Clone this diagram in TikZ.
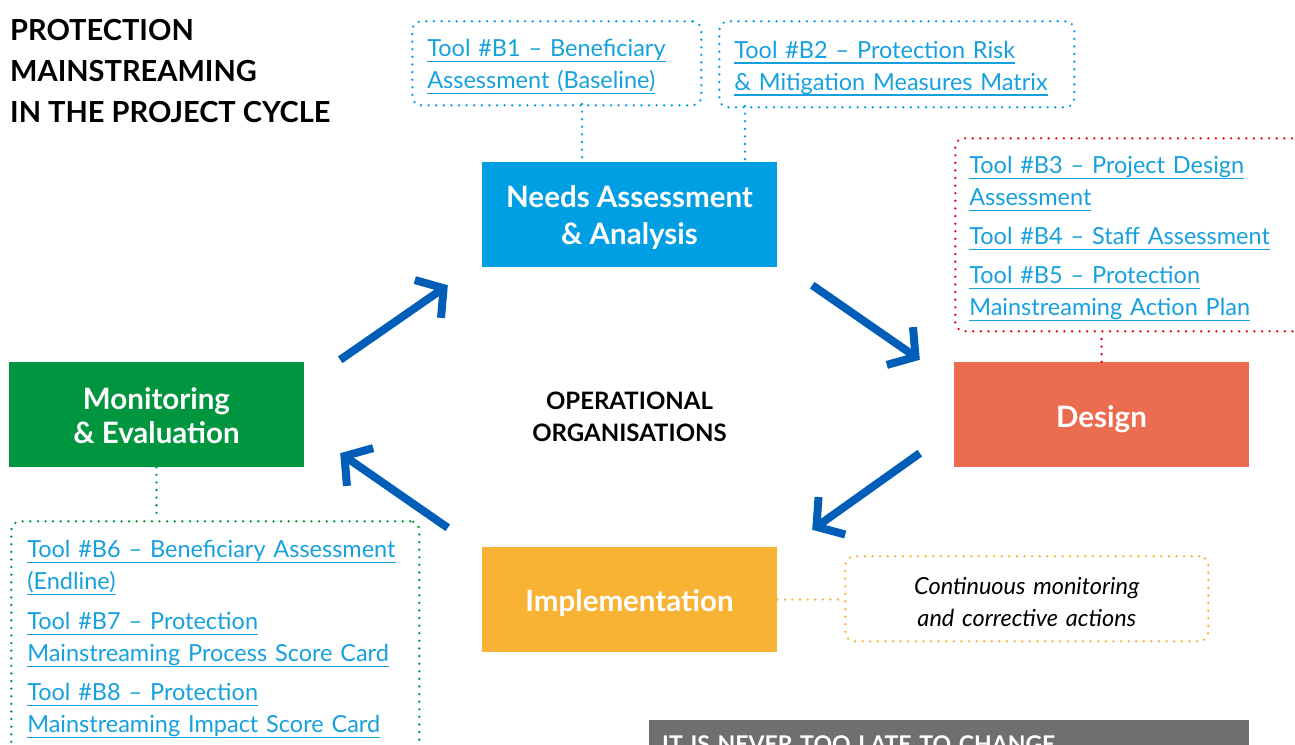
\documentclass[tikz,border=0pt]{standalone}
\usepackage{fontspec}
\setmainfont{Lato}
\usetikzlibrary{arrows.meta}

\definecolor{needsblue}{RGB}{0,159,227}
\definecolor{designred}{RGB}{236,108,80}
\definecolor{implyellow}{RGB}{248,178,52}
\definecolor{monigreen}{RGB}{0,150,64}
\definecolor{cycleblue}{RGB}{0,94,184}
\definecolor{linkblue}{RGB}{22,160,222}
\definecolor{dotred}{RGB}{227,6,19}
\definecolor{notegrey}{RGB}{112,111,111}

\newsavebox{\toolrefbox}
\newcommand{\toolref}[1]{\leavevmode\sbox{\toolrefbox}{#1}\rlap{\rule[-5.5pt]{\wd\toolrefbox}{1.3pt}}\usebox{\toolrefbox}}
\newcommand{\padtop}[1]{\rule{0pt}{#1}}

\begin{document}
\begin{tikzpicture}[x=1pt,y=-1pt,
    phase/.style={minimum width=295pt, minimum height=105pt, inner sep=0pt, text=white, align=center,
      font=\fontsize{29.5}{36}\selectfont\bfseries},
    toolbox/.style={draw, line width=2.6pt, dash pattern=on 0pt off 7.6pt, line cap=round,
      rounded corners=9pt, anchor=north west, align=left, inner ysep=0pt, text=linkblue,
      font=\fontsize{23.5}{32}\selectfont},
    dotlink/.style={line width=2.6pt, dash pattern=on 0pt off 7.6pt, line cap=round},
    cyclearrow/.style={line width=8pt, cycleblue, -{Straight Barb[length=19pt,width=46pt]}}]
  \useasboundingbox (0,0) rectangle (1295,744);
  \clip (0,0) rectangle (1295,744);

  % title
  \node (title) [anchor=north west, align=left, inner sep=0pt,
    font=\fontsize{29}{41}\selectfont\bfseries] at (10,19) {PROTECTION\\MAINSTREAMING\\IN THE PROJECT CYCLE};

  % the four phases
  \node (needs) [phase, fill=needsblue, font=\fontsize{29.5}{37}\selectfont\bfseries] at (629.5,214.5) {\padtop{28pt}Needs Assessment\\\& Analysis};
  \node (design) [phase, fill=designred] at (1101.5,414.5) {\padtop{31pt}Design};
  \node (impl) [phase, fill=implyellow] at (629.5,599.5) {\padtop{28pt}Implementation};
  \node (moni) [phase, fill=monigreen, font=\fontsize{29.5}{34}\selectfont\bfseries] at (156.5,414.5) {\padtop{24pt}Monitoring\\\& Evaluation};

  \node (centre) [align=center, font=\fontsize{24}{32}\selectfont\bfseries] at (629.5,417) {OPERATIONAL\\ORGANISATIONS};

  % tool boxes
  \node (b1) [toolbox, color=needsblue, text=linkblue, text width=259pt, inner xsep=15pt, minimum height=84pt]
    at (411,20) {\padtop{24pt}\toolref{Tool \#B1 – Beneficiary}\\\toolref{Assessment (Baseline)}};
  \node (b2) [toolbox, color=needsblue, text=linkblue, text width=325pt, inner xsep=15pt, minimum height=86pt]
    at (718,20) {\padtop{25pt}\toolref{Tool \#B2 – Protection Risk}\\\toolref{\& Mitigation Measures Matrix}};
  \node (b35) [toolbox, color=dotred, text=linkblue, text width=348pt, inner xsep=14pt, minimum height=193pt]
    at (954,137) {\padtop{25pt}\toolref{Tool \#B3 – Project Design}\\\toolref{Assessment}\\[7pt]
      \toolref{Tool \#B4 – Staff Assessment}\\[7pt]
      \toolref{Tool \#B5 – Protection}\\\toolref{Mainstreaming Action Plan}};
  \node (b68) [toolbox, color=monigreen, text=linkblue, text width=376pt, inner xsep=16pt, minimum height=236pt]
    at (10,520) {\toolref{Tool \#B6 – Beneficiary Assessment}\\\toolref{(Endline)}\\[8pt]
      \toolref{Tool \#B7 – Protection}\\\toolref{Mainstreaming Process Score Card}\\[7pt]
      \toolref{Tool \#B8 – Protection}\\\toolref{Mainstreaming Impact Score Card}};
  \node (cont) [toolbox, color=implyellow, text=black, align=center, text width=329pt, inner xsep=17pt,
    minimum height=85pt, font=\fontsize{23.5}{32}\selectfont\itshape]
    at (844,555) {\padtop{24pt}Continuous monitoring\\and corrective actions};

  \node (note) [fill=notegrey, anchor=north west, text=white, align=left, text width=574pt,
    inner xsep=13pt, inner ysep=15pt, font=\fontsize{23}{30}\selectfont\bfseries]
    at (649,720) {IT IS NEVER TOO LATE TO CHANGE};

  % dotted links
  \coordinate (b1foot) at (582,104);
  \coordinate (b2foot) at (745,106);
  \draw[dotlink, needsblue] (b1foot) -- (b1foot |- needs.north);
  \draw[dotlink, needsblue] (b2foot) -- (b2foot |- needs.north);
  \draw[dotlink, dotred] (design.north) -- (design.north |- b35.south);
  \draw[dotlink, monigreen] (moni.south) -- (moni.south |- b68.north);
  \draw[dotlink, implyellow] (impl.east) -- (impl.east -| cont.west);

  % the cycle
  \draw[cyclearrow] ([shift={(36,-2)}]moni.north east) -- ([shift={(-34,18)}]needs.south west);
  \draw[cyclearrow] ([shift={(35,18)}]needs.south east) -- ([shift={(-34,-2)}]design.north west);
  \draw[cyclearrow] ([shift={(-34,-14)}]design.south west) -- ([shift={(35,-17)}]impl.north east);
  \draw[cyclearrow] ([shift={(-34,-19)}]impl.north west) -- ([shift={(36,-14)}]moni.south east);
\end{tikzpicture}
\end{document}
